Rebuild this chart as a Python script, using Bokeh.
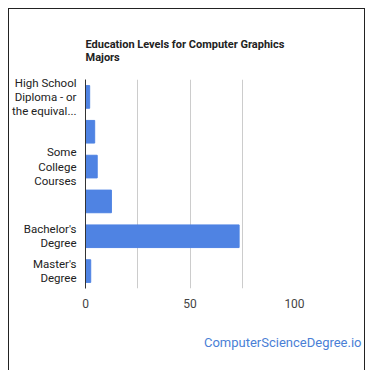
from bokeh.plotting import figure
from bokeh.models import FixedTicker, Title, Range1d
from bokeh.embed import file_html
from bokeh.resources import INLINE

categories = [
    "High School Diploma - or the equivalent (for example: GED)",
    "Post-Secondary Certificate",
    "Some College Courses",
    "Associate's Degree",
    "Bachelor's Degree",
    "Master's Degree",
]
display_labels = [
    "High School\nDiploma - or\nthe equival...",
    "",
    "Some\nCollege\nCourses",
    "",
    "Bachelor's\nDegree",
    "Master's\nDegree",
]
values = [2.0, 4.4, 5.6, 12.4, 73.5, 2.5]
x_ticks = [0, 50, 100]
grid_ticks = [25, 50, 75, 100]
title_text = "Education Levels for Computer Graphics\nMajors"
watermark = "ComputerScienceDegree.io"

FONT = "Roboto"
LINE_STEP = 0.41  # line spacing of wrapped category labels, in band units
positions = list(range(len(categories)))

# one tick per wrapped label line
y_ticks, y_overrides = [], {}
for i, lab in zip(positions, display_labels):
    if not lab:
        continue
    lines = lab.split("\n")
    n = len(lines)
    for k, line in enumerate(lines):
        t = round(i + (k - (n - 1) / 2) * LINE_STEP, 3)
        y_ticks.append(t)
        y_overrides[t] = line

p = figure(
    width=343, height=343, frame_width=209, frame_height=209,
    y_range=Range1d(len(categories) - 0.5, -0.5),
    x_range=Range1d(0, 100),
    output_backend="svg", toolbar_location=None,
    min_border_left=64, min_border_right=70, min_border_top=70, min_border_bottom=64,
)
p.outline_line_color = None
p.background_fill_color = "white"
p.border_fill_color = "white"
p.styles = {"position": "relative", "left": "9px", "top": "9px",
            "outline": "1px solid #222222", "outline-offset": "0px"}

p.hbar(y=positions, right=values, left=0, height=0.65,
       fill_color="#4f83e3", line_color="#4f83e3")

# axes
p.yaxis.ticker = FixedTicker(ticks=y_ticks)
p.yaxis.major_label_overrides = y_overrides
p.yaxis.axis_line_color = "#333333"
p.yaxis.major_tick_line_color = None
p.yaxis.minor_tick_line_color = None
p.yaxis.major_label_text_font = FONT
p.yaxis.major_label_text_font_size = "11.5px"
p.yaxis.major_label_text_color = "#222222"
p.yaxis.major_label_standoff = 3

p.xaxis.ticker = FixedTicker(ticks=x_ticks)
p.xaxis.axis_line_color = None
p.xaxis.major_tick_line_color = None
p.xaxis.minor_tick_line_color = None
p.xaxis.major_label_text_font = FONT
p.xaxis.major_label_text_font_size = "12px"
p.xaxis.major_label_text_color = "#444444"
p.xaxis.major_label_standoff = 4

p.ygrid.grid_line_color = None
p.xgrid.ticker = FixedTicker(ticks=grid_ticks)
p.xgrid.grid_line_color = "#cccccc"

p.add_layout(Title(text=title_text, align="left", text_font=FONT,
                   text_font_style="bold", text_font_size="11px",
                   text_color="#222222", standoff=32), "above")
p.add_layout(Title(text=watermark, align="right", text_font=FONT,
                   text_font_style="normal", text_font_size="13px",
                   text_color="#4a7fd6", offset=-67, standoff=44), "below")

open("out.html", "w").write(file_html(p, INLINE))
